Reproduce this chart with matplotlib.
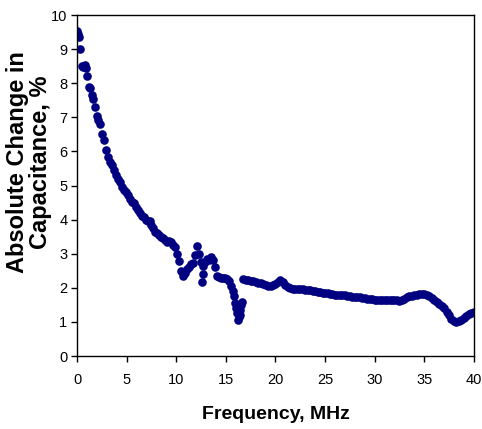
import numpy as np
import matplotlib
matplotlib.use('Agg')
import matplotlib.pyplot as plt

plt.rcParams['font.family'] = ['Liberation Sans', 'DejaVu Sans']

# data
# low frequency part (0 - 16.6 MHz), last three are stray points
freq_low = [0.03, 0.1, 0.2, 0.3, 0.45, 0.6, 0.75, 0.9, 1.0, 1.15, 1.3, 1.5, 1.65, 1.8,
            2.0, 2.15, 2.3, 2.5, 2.7, 2.9, 3.1, 3.3, 3.5, 3.7, 3.9, 4.1, 4.3, 4.5, 4.7,
            4.9, 5.1, 5.3, 5.5, 5.7, 5.9, 6.1, 6.3, 6.5, 6.7, 6.9, 7.1, 7.3, 7.5, 7.7,
            7.9, 8.1, 8.3, 8.5, 8.7, 8.9, 9.1, 9.3, 9.5, 9.7, 9.9, 10.1, 10.3, 10.5,
            10.7, 10.9, 11.1, 11.3, 11.5, 11.7, 11.9, 12.1, 12.3, 12.5, 12.7, 12.9,
            13.1, 13.3, 13.5, 13.7, 13.9, 14.1, 14.3, 14.5, 14.7, 14.9, 15.1, 15.3,
            15.5, 15.7, 15.8, 15.9, 16.0, 16.1, 16.2, 16.3, 16.4, 16.5, 16.6,
            12.6, 12.65, 16.4]
cap_low = [9.54, 9.45, 9.37, 8.99, 8.5, 8.48, 8.52, 8.45, 8.2, 7.9, 7.85, 7.65, 7.55, 7.3,
           7.05, 6.92, 6.8, 6.5, 6.35, 6.05, 5.85, 5.7, 5.6, 5.45, 5.3, 5.2, 5.1, 4.97, 4.88,
           4.8, 4.72, 4.6, 4.52, 4.48, 4.38, 4.28, 4.2, 4.12, 4.08, 4.0, 3.95, 3.95, 3.85,
           3.75, 3.65, 3.6, 3.55, 3.5, 3.47, 3.4, 3.35, 3.38, 3.35, 3.25, 3.2, 3.0, 2.8,
           2.5, 2.35, 2.45, 2.55, 2.62, 2.7, 2.72, 2.95, 3.22, 3.0, 2.75, 2.65, 2.75,
           2.85, 2.82, 2.9, 2.82, 2.6, 2.35, 2.32, 2.3, 2.3, 2.28, 2.25, 2.2,
           2.05, 1.9, 1.75, 1.55, 1.4, 1.25, 1.05, 1.15, 1.35, 1.5, 1.6,
           2.18, 2.42, 1.2]

# high frequency part (16.75 - 40 MHz)
freq_high = [16.75, 17.0, 17.25, 17.5, 17.75, 18.0, 18.25, 18.5, 18.75, 19.0, 19.25, 19.5,
             19.75, 20.0, 20.25, 20.5, 20.75, 21.0, 21.25, 21.5, 21.75, 22.0, 22.25, 22.5,
             22.75, 23.0, 23.25, 23.5, 23.75, 24.0, 24.25, 24.5, 24.75, 25.0, 25.25, 25.5,
             25.75, 26.0, 26.25, 26.5, 26.75, 27.0, 27.25, 27.5, 27.75, 28.0, 28.25, 28.5,
             28.75, 29.0, 29.25, 29.5, 29.75, 30.0, 30.25, 30.5, 30.75, 31.0, 31.25, 31.5,
             31.75, 32.0, 32.25, 32.5, 32.75, 33.0, 33.25, 33.5, 33.75, 34.0, 34.25, 34.5,
             34.75, 35.0, 35.25, 35.5, 35.75, 36.0, 36.25, 36.5, 36.75, 37.0, 37.25, 37.5,
             37.75, 38.0, 38.25, 38.5, 38.75, 39.0, 39.25, 39.5, 39.75, 40.0]
cap_high = [2.27, 2.23, 2.22, 2.2, 2.19, 2.17, 2.15, 2.13, 2.11, 2.08, 2.06, 2.05,
            2.07, 2.1, 2.16, 2.22, 2.18, 2.08, 2.03, 2.0, 1.98, 1.97, 1.97, 1.96,
            1.96, 1.95, 1.95, 1.93, 1.92, 1.9, 1.88, 1.87, 1.86, 1.85, 1.84, 1.83,
            1.82, 1.8, 1.79, 1.78, 1.78, 1.78, 1.77, 1.76, 1.74, 1.72, 1.72, 1.72,
            1.71, 1.7, 1.68, 1.67, 1.66, 1.65, 1.64, 1.64, 1.63, 1.63, 1.64, 1.65,
            1.65, 1.65, 1.64, 1.62, 1.63, 1.67, 1.72, 1.75, 1.77, 1.78, 1.8, 1.82,
            1.83, 1.82, 1.79, 1.75, 1.7, 1.65, 1.6, 1.54, 1.47, 1.4, 1.3, 1.2,
            1.1, 1.03, 1.0, 1.02, 1.07, 1.12, 1.17, 1.22, 1.26, 1.3]

x_ticks = [0, 5, 10, 15, 20, 25, 30, 35, 40]
y_ticks = [0, 1, 2, 3, 4, 5, 6, 7, 8, 9, 10]

fig = plt.figure(figsize=(4.82, 4.29), dpi=100)
ax = fig.add_axes([0.160, 0.170, 0.823, 0.795])

navy = '#000080'
ax.plot(freq_low, cap_low, 'o', color=navy, markersize=6.2, markeredgewidth=0)
ax.plot(freq_high, cap_high, 'o', color=navy, markersize=6.2, markeredgewidth=0)

ax.set_xlim(0, 40)
ax.set_ylim(0, 10)
ax.set_xticks(x_ticks)
ax.set_yticks(y_ticks)
ax.tick_params(direction='out', length=4, width=1, labelsize=10.5, pad=8)
ax.tick_params(axis='y', pad=3)
for s in ax.spines.values():
    s.set_linewidth(1)

ax.set_xlabel('Frequency, MHz', fontsize=14, fontweight='bold', labelpad=14)
fig.text(29 / 482, 1 - 162 / 429, 'Absolute Change in\nCapacitance, %', rotation=90,
         fontsize=17, fontweight='bold', ha='center', va='center',
         multialignment='center', linespacing=0.95)

fig.savefig('out.png', dpi=100)
